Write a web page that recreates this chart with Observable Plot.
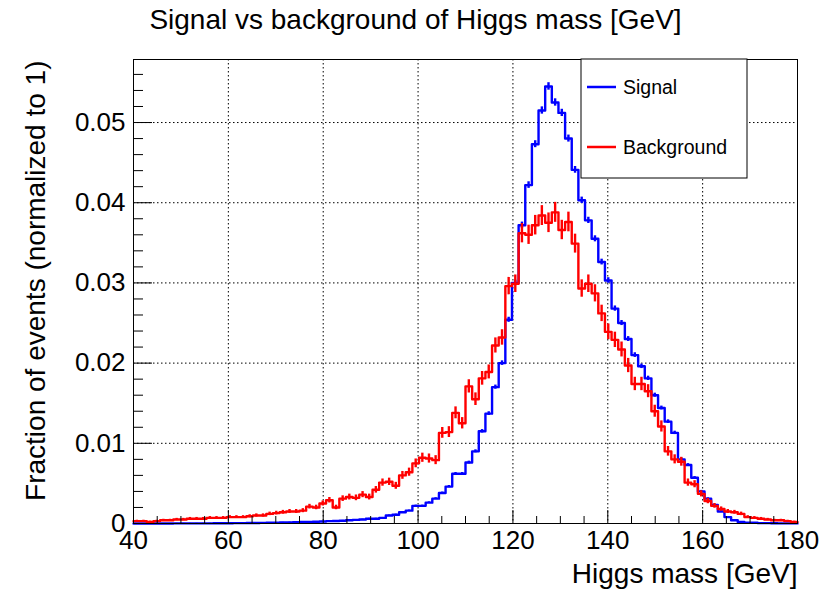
<!DOCTYPE html>
<html>
<head>
<meta charset="utf-8">
<script src="https://cdn.jsdelivr.net/npm/d3@7"></script>
<script src="https://cdn.jsdelivr.net/npm/@observablehq/plot@0.6"></script>
<style>
  html, body { margin: 0; padding: 0; background: white; }
  #chart { width: 830px; height: 596px; }
</style>
</head>
<body>
<div id="chart"></div>
<script>
// Histogram binning
const binLow = 40;
const binWidth = 1.4;

// Signal (blue), fraction of events per bin
const signal = [
  0, 0, 0, 0, 0, 0, 0.00001, 0.00001, 0.00001, 0.00002,
  0.00002, 0.00002, 0.00003, 0.00003, 0.00004, 0.00005, 0.00005, 0.00006, 0.00007, 0.00008,
  0.0001, 0.0001, 0.00012, 0.00014, 0.00016, 0.00018, 0.0002, 0.00022, 0.00025, 0.0003,
  0.00032, 0.00035, 0.0004, 0.00045, 0.0005, 0.0006, 0.0006, 0.0007, 0.0010, 0.0011,
  0.0014, 0.0016, 0.0022, 0.0022, 0.0026, 0.0031, 0.0038, 0.0046, 0.0062, 0.0062,
  0.0076, 0.0090, 0.0115, 0.0137, 0.0170, 0.0200, 0.0254, 0.0300, 0.0372, 0.0422,
  0.0473, 0.0515, 0.0545, 0.0525, 0.0512, 0.0480, 0.0441, 0.0403, 0.0378, 0.0355,
  0.0326, 0.0303, 0.0268, 0.0250, 0.0230, 0.0210, 0.0196, 0.0181, 0.0160, 0.0144,
  0.0127, 0.0113, 0.0080, 0.0073, 0.0057, 0.0040, 0.0031, 0.0023, 0.0015, 0.0008,
  0.0004, 0.0002, 0.0001, 0.0001, 0.00005, 0.00005, 0.00003, 0.00002, 0.00001, 0.00001
];

// Background (red), fraction of events per bin
const background = [
  0.0003, 0.0003, 0.0002, 0.0003, 0.0004, 0.0004, 0.0005, 0.0005, 0.0006, 0.0006,
  0.0006, 0.0007, 0.0007, 0.0007, 0.0008, 0.0008, 0.0008, 0.0009, 0.0010, 0.0010,
  0.0012, 0.0013, 0.0014, 0.0015, 0.0015, 0.0016, 0.0021, 0.0020, 0.0025, 0.0029,
  0.0020, 0.0031, 0.0033, 0.0032, 0.0036, 0.0033, 0.0042, 0.0051, 0.0052, 0.0047,
  0.0060, 0.0064, 0.0075, 0.0082, 0.0081, 0.0079, 0.0113, 0.0114, 0.0138, 0.0125,
  0.0171, 0.0155, 0.0181, 0.0189, 0.0222, 0.0232, 0.0296, 0.0299, 0.0362, 0.0360,
  0.0372, 0.0384, 0.0375, 0.0388, 0.0366, 0.0376, 0.0349, 0.0293, 0.0299, 0.0287,
  0.0262, 0.0239, 0.0229, 0.0217, 0.0197, 0.0174, 0.0174, 0.0165, 0.0140, 0.0121,
  0.0090, 0.0080, 0.0077, 0.0051, 0.0049, 0.0037, 0.0028, 0.0022, 0.0018, 0.0015,
  0.0014, 0.0012, 0.0008, 0.0007, 0.0006, 0.0005, 0.0004, 0.0004, 0.0003, 0.0002
];

// Approximate event counts used for statistical error bars
const signalEvents = 250000;
const backgroundEvents = 25000;

// Axis ticks
const xTicks = [40, 60, 80, 100, 120, 140, 160, 180];
const xMinorTicks = [45, 50, 55, 65, 70, 75, 85, 90, 95, 105, 110, 115, 125, 130, 135, 145, 150, 155, 165, 170, 175];
const yTicks = [0, 0.01, 0.02, 0.03, 0.04, 0.05];
const yMinorTicks = [0.002, 0.004, 0.006, 0.008, 0.012, 0.014, 0.016, 0.018, 0.022, 0.024, 0.026, 0.028,
  0.032, 0.034, 0.036, 0.038, 0.042, 0.044, 0.046, 0.048, 0.052, 0.054, 0.056];
const xGrid = [60, 80, 100, 120, 140, 160];
const yGrid = [0.01, 0.02, 0.03, 0.04, 0.05];

const titleText = "Signal vs background of Higgs mass [GeV]";
const xTitle = "Higgs mass [GeV]";
const yTitle = "Fraction of events (normalized to 1)";
const seriesNames = ["Signal", "Background"];
const seriesColors = ["#0000ff", "#ff0000"];

function steps(values) {
  const pts = values.map((v, i) => ({x: binLow + i * binWidth, y: v}));
  pts.push({x: binLow + values.length * binWidth, y: values[values.length - 1]});
  return pts;
}
function errors(values, n) {
  return values.map((v, i) => {
    const e = Math.sqrt(v / n);
    return {x: binLow + (i + 0.5) * binWidth, y1: v - e, y2: v + e};
  });
}

const font = "'Liberation Sans', Arial, Helvetica, sans-serif";
const lw = 2.4;

const plot = Plot.plot({
  width: 830,
  height: 596,
  marginLeft: 133,
  marginRight: 33,
  marginTop: 59,
  marginBottom: 73,
  style: {fontFamily: font, background: "white", overflow: "visible"},
  x: {domain: [40, 180]},
  y: {domain: [0, 0.05786]},
  marks: [
    Plot.ruleX(xGrid, {stroke: "black", strokeWidth: 1, strokeDasharray: "1.5,2.5"}),
    Plot.ruleY(yGrid, {stroke: "black", strokeWidth: 1, strokeDasharray: "1.5,2.5"}),
    Plot.line(steps(signal), {x: "x", y: "y", curve: "step-after", stroke: seriesColors[0], strokeWidth: lw}),
    Plot.ruleX(errors(signal, signalEvents), {x: "x", y1: "y1", y2: "y2", stroke: seriesColors[0], strokeWidth: lw}),
    Plot.line(steps(background), {x: "x", y: "y", curve: "step-after", stroke: seriesColors[1], strokeWidth: lw}),
    Plot.ruleX(errors(background, backgroundEvents), {x: "x", y1: "y1", y2: "y2", stroke: seriesColors[1], strokeWidth: lw}),
    Plot.frame({stroke: "black", strokeWidth: 1}),
    Plot.axisX(xTicks, {tickSize: -13, tickPadding: 20, fontSize: 26, tickFormat: d => String(d), label: null}),
    Plot.axisX(xMinorTicks, {tickSize: -7, tickFormat: () => "", label: null}),
    Plot.axisY(yTicks, {tickSize: -19, tickPadding: 27, fontSize: 26, tickFormat: d => String(d), label: null}),
    Plot.axisY(yMinorTicks, {tickSize: -10, tickFormat: () => "", label: null}),
    Plot.text([titleText], {frameAnchor: "top-left", dx: 282, dy: -39, textAnchor: "middle", lineAnchor: "middle", fontSize: 28, fill: "black"}),
    Plot.text([xTitle], {frameAnchor: "bottom-right", dy: 51, textAnchor: "end", lineAnchor: "middle", fontSize: 28, fill: "black"}),
    Plot.text([yTitle], {frameAnchor: "top-left", dx: -97, dy: 1, rotate: -90, textAnchor: "end", lineAnchor: "middle", fontSize: 28, fill: "black"})
  ]
});

document.getElementById("chart").appendChild(plot);

// Legend box (drawn into the same SVG)
const svg = d3.select(plot);
const lg = svg.append("g").attr("font-family", font).attr("text-anchor", "start");
lg.append("rect").attr("x", 581).attr("y", 59).attr("width", 166).attr("height", 119)
  .attr("fill", "white").attr("stroke", "black").attr("stroke-width", 1);
seriesNames.forEach((name, i) => {
  const cy = 87 + i * 60;
  lg.append("line").attr("x1", 587).attr("x2", 616).attr("y1", cy).attr("y2", cy)
    .attr("stroke", seriesColors[i]).attr("stroke-width", 2.5);
  lg.append("text").attr("x", 623).attr("y", cy).attr("dy", "0.35em")
    .attr("text-anchor", "start")
    .attr("font-size", 19.5).attr("fill", "black").text(name);
});
</script>
</body>
</html>
